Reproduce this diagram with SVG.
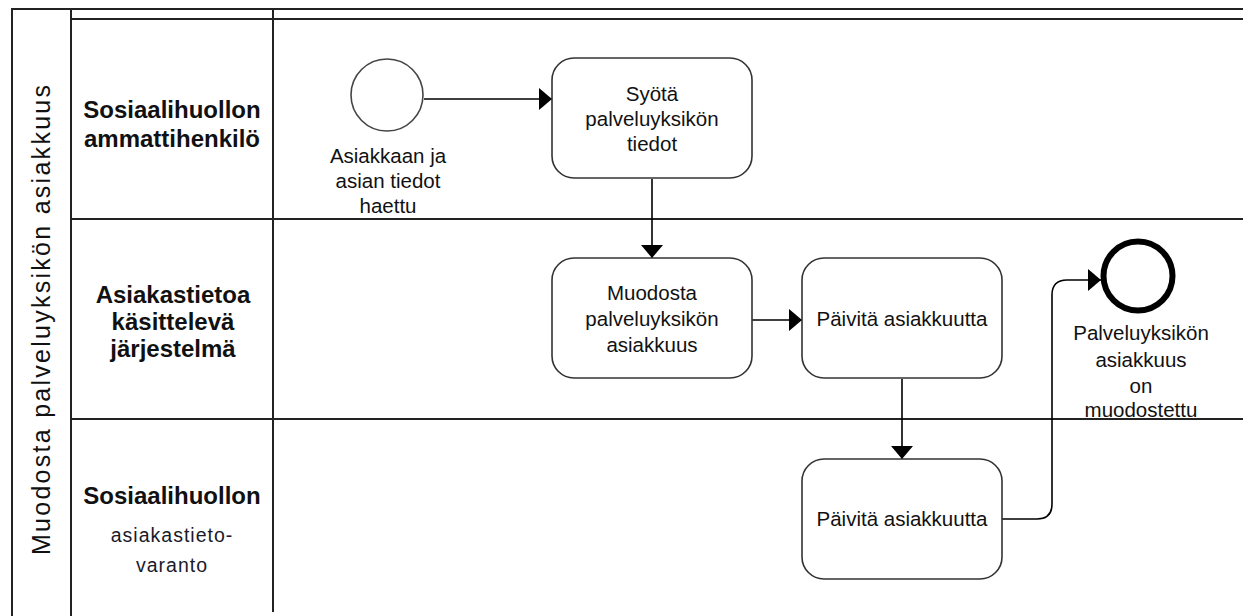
<svg xmlns="http://www.w3.org/2000/svg" width="1243" height="616" viewBox="0 0 1243 616">
  <style>
    .pool { stroke: #222; stroke-width: 2; fill: none; }
    .task { fill: #fff; stroke: #333; stroke-width: 1.6; }
    .flow { fill: none; stroke: #000; stroke-width: 1.6; }
    .lbl { font-family: "Liberation Sans", Arial, sans-serif; font-size: 20.5px; fill: #111; text-anchor: middle; }
    .lane { font-family: "Liberation Sans", Arial, sans-serif; font-size: 24px; font-weight: bold; fill: #111; text-anchor: middle; }
    .sub { font-family: "Liberation Sans", Arial, sans-serif; font-size: 19.5px; letter-spacing: 1px; fill: #1a1a2a; text-anchor: middle; }
    .title { font-family: "Liberation Sans", Arial, sans-serif; font-size: 25px; fill: #111; text-anchor: middle; }
  </style>
  <defs>
    <marker id="arrow" markerUnits="userSpaceOnUse" markerWidth="14" markerHeight="24" refX="13" refY="11" orient="auto">
      <path d="M0,0 L13,11 L0,22 Z" fill="#000"/>
    </marker>
  </defs>

  <rect width="1243" height="616" fill="#fff"/>

  <!-- pool and lanes -->
  <g id="pool">
    <path class="pool" d="M12,616 V9 H1243"/>
    <path class="pool" d="M71,9 V616"/>
    <path class="pool" d="M71,19 H1243"/>
    <path class="pool" d="M273,9 V612"/>
    <path class="pool" d="M71,219 H1243"/>
    <path class="pool" d="M71,419 H1243"/>
    <text class="title" transform="translate(50,320) rotate(-90)" textLength="470" lengthAdjust="spacing">Muodosta palveluyksikön asiakkuus</text>
  </g>

  <g id="lane-ammattihenkilo">
    <text class="lane" x="172" y="118">Sosiaalihuollon</text>
    <text class="lane" x="172" y="147">ammattihenkilö</text>
  </g>
  <g id="lane-jarjestelma">
    <text class="lane" x="173" y="303">Asiakastietoa</text>
    <text class="lane" x="173" y="330">käsittelevä</text>
    <text class="lane" x="173" y="357">järjestelmä</text>
  </g>
  <g id="lane-varanto">
    <text class="lane" x="172" y="504">Sosiaalihuollon</text>
    <text class="sub" x="172" y="542">asiakastieto-</text>
    <text class="sub" x="172" y="572">varanto</text>
  </g>

  <!-- connectors -->
  <g id="connectors">
    <path class="flow" d="M424,99 H552" marker-end="url(#arrow)"/>
    <path class="flow" d="M652,179 V258" marker-end="url(#arrow)"/>
    <path class="flow" d="M752,320 H802" marker-end="url(#arrow)"/>
    <path class="flow" d="M902,379 V459" marker-end="url(#arrow)"/>
    <path class="flow" d="M1002,519 H1037 Q1052,519 1052,504 V295 Q1052,280 1067,280 H1101" marker-end="url(#arrow)"/>
  </g>

  <!-- nodes -->
  <g id="start">
    <circle cx="387" cy="95" r="36" fill="#fff" stroke="#444" stroke-width="1.6"/>
    <text class="lbl" x="388" y="163">Asiakkaan ja</text>
    <text class="lbl" x="388" y="188">asian tiedot</text>
    <text class="lbl" x="388" y="213">haettu</text>
  </g>

  <g id="task-syota">
    <rect class="task" x="552" y="58" width="200" height="120" rx="22"/>
    <text class="lbl" x="652" y="101">Syötä</text>
    <text class="lbl" x="652" y="126">palveluyksikön</text>
    <text class="lbl" x="652" y="151">tiedot</text>
  </g>

  <g id="task-muodosta">
    <rect class="task" x="552" y="258" width="200" height="120" rx="22"/>
    <text class="lbl" x="652" y="300">Muodosta</text>
    <text class="lbl" x="652" y="326">palveluyksikön</text>
    <text class="lbl" x="652" y="352">asiakkuus</text>
  </g>

  <g id="task-paivita-1">
    <rect class="task" x="802" y="258" width="200" height="120" rx="22"/>
    <text class="lbl" x="902" y="326">Päivitä asiakkuutta</text>
  </g>

  <g id="task-paivita-2">
    <rect class="task" x="802" y="459" width="200" height="120" rx="22"/>
    <text class="lbl" x="902" y="526">Päivitä asiakkuutta</text>
  </g>

  <g id="end">
    <circle cx="1138" cy="276" r="34.5" fill="#fff" stroke="#000" stroke-width="6"/>
    <text class="lbl" x="1141" y="340">Palveluyksikön</text>
    <text class="lbl" x="1141" y="367">asiakkuus</text>
    <text class="lbl" x="1141" y="393">on</text>
    <text class="lbl" x="1141" y="417">muodostettu</text>
  </g>
</svg>
